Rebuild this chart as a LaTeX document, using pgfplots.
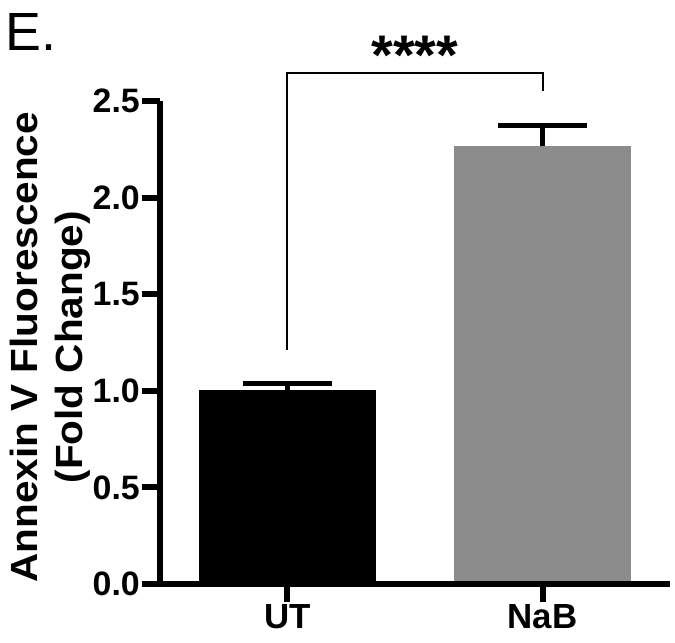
\documentclass[border=0pt]{standalone}
\usepackage{fontspec}
\setmainfont{Liberation Sans}
\newfontfamily\widefont{Liberation Sans}[FakeStretch=1.07]
\usepackage{pgfplots}
\pgfplotsset{compat=1.18}
\definecolor{barGray}{RGB}{140,140,140}
\begin{document}
\begin{tikzpicture}
\path[use as bounding box] (-160bp,-59bp) rectangle (515bp,584bp);
\begin{axis}[
  at={(0,0)}, anchor=south west,
  scale only axis, width=510bp, height=483bp,
  xmin=-0.5, xmax=1.5, ymin=0, ymax=2.5,
  axis x line*=bottom, axis y line*=left,
  axis line style={-, line width=6bp, black},
  tick style={line width=6bp, black},
  major tick length=18bp, tick align=outside,
  xtick={0,1}, xticklabels={UT,NaB},
  ytick={0,0.5,1,1.5,2,2.5},
  /pgf/number format/assume math mode=true,
  yticklabel style={/pgf/number format/.cd, fixed, fixed zerofill, precision=1},
  ticklabel style={font=\fontsize{34}{34}\selectfont\bfseries, inner sep=2bp},
  xticklabel style={font=\fontsize{35}{35}\selectfont\bfseries},
  ylabel={Annexin V Fluorescence\\(Fold Change)},
  ylabel style={at={(axis description cs:-0.215,0.49)}, anchor=center, align=center,
    font=\widefont\fontsize{38}{46}\selectfont\bfseries},
  clip=false, axis on top,
]
\addplot[ybar, bar width=0.697, bar shift=0pt, fill=black, draw=none,
  error bars/.cd, y dir=plus, y explicit,
  error bar style={line width=5bp, draw=black},
  error mark options={rotate=90, mark size=44.5bp, line width=5bp, draw=black}]
  coordinates {(0,1.005) +- (0,0.035)};
\addplot[ybar, bar width=0.697, bar shift=0pt, fill=barGray, draw=none,
  error bars/.cd, y dir=plus, y explicit,
  error bar style={line width=5bp, draw=black},
  error mark options={rotate=90, mark size=44.5bp, line width=5bp, draw=black}]
  coordinates {(1,2.265) +- (0,0.11)};
\draw[line width=2bp] (axis cs:0,1.211) |- (axis cs:1,2.645) -- (axis cs:1,2.55);
\node[font=\fontsize{56}{56}\selectfont\bfseries, anchor=base] at (axis cs:0.5,2.635) {****};
\end{axis}
\node[font=\fontsize{54}{54}\selectfont, anchor=base west, inner sep=0] at (-155bp,533bp) {E.};
\end{tikzpicture}
\end{document}
